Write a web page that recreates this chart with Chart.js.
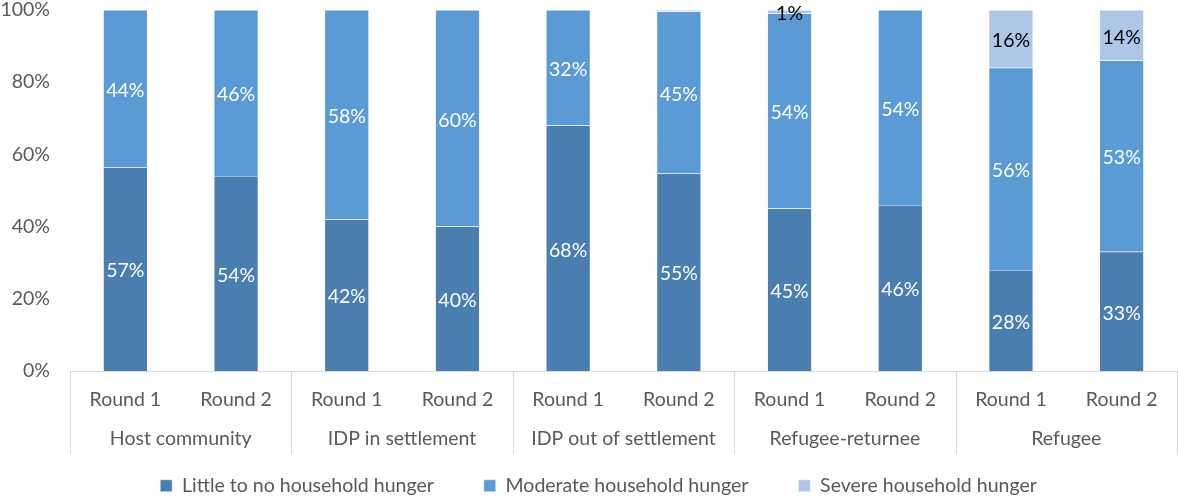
<!DOCTYPE html>
<html>
<head>
<meta charset="utf-8">
<script src="https://cdn.jsdelivr.net/npm/chart.js@4.4.1/dist/chart.umd.min.js"></script>
<style>
  html, body { margin: 0; padding: 0; background: #fff; }
  #wrap { width: 1179px; height: 498px; }
</style>
</head>
<body>
<div id="wrap"><canvas id="grafico"></canvas></div>
<script>
// categorias (nível 1 e nível 2 do eixo x)
const rodadas = ["Round 1", "Round 2", "Round 1", "Round 2", "Round 1", "Round 2", "Round 1", "Round 2", "Round 1", "Round 2"];
const grupos = ["Host community", "IDP in settlement", "IDP out of settlement", "Refugee-returnee", "Refugee"];

// valores (%)
const poucaFome = [57, 54, 42, 40, 68, 55, 45, 46, 28, 33];
const fomeModerada = [44, 46, 58, 60, 32, 45, 54, 54, 56, 53];
const fomeSevera = [0, 0, 0, 0, 0, 0.4, 1, 0, 16, 14];

const yTicks = [0, 20, 40, 60, 80, 100];

const FONTE = "Lato, 'Open Sans', sans-serif";
const TAM = 19.5;
const CINZA = "#595959";

// 100% empilhado: cada barra é normalizada pela soma
const totais = poucaFome.map((v, i) => v + fomeModerada[i] + fomeSevera[i]);
const normaliza = (arr) => arr.map((v, i) => (v / totais[i]) * 100);

// altura fixa da legenda (o padding grande entre itens inflava a caixa)
const legendaFixa = {
  id: "legendaFixa",
  beforeLayout(chart) {
    const leg = chart.legend;
    if (!leg || leg._fitFixo) return;
    const fitOrig = leg.fit;
    leg.fit = function () {
      fitOrig.call(this);
      this.height = 72;
    };
    leg._fitFixo = true;
  },
  afterLayout(chart) {
    // centraliza a legenda um pouco mais à direita, como no original
    if (chart.legend) chart.legend.left += 20;
  },
};

// desenha rótulos, linhas de separação e nomes dos grupos
const extras = {
  id: "extras",
  afterDatasetsDraw(chart) {
    const ctx = chart.ctx;
    ctx.save();
    ctx.font = TAM + "px " + FONTE;
    ctx.textAlign = "center";
    ctx.textBaseline = "middle";
    chart.data.datasets.forEach((ds, di) => {
      const meta = chart.getDatasetMeta(di);
      meta.data.forEach((bar, i) => {
        const bruto = ds.brutos[i];
        if (bruto < 1) return;
        const { x, y, base } = bar.getProps(["x", "y", "base"], true);
        ctx.fillStyle = ds.corRotulo;
        ctx.fillText(bruto + "%", x, (y + base) / 2 + 2);
      });
    });
    ctx.restore();
  },
  afterDraw(chart) {
    const ctx = chart.ctx;
    const x = chart.scales.x;
    const area = chart.chartArea;
    const n = rodadas.length;
    const passo = (x.right - x.left) / n;
    ctx.save();
    ctx.strokeStyle = "#d9d9d9";
    ctx.lineWidth = 1;
    for (let g = 0; g <= grupos.length; g++) {
      const px = Math.round(x.left + g * 2 * passo) + 0.5;
      ctx.beginPath();
      ctx.moveTo(px, area.bottom);
      ctx.lineTo(px, area.bottom + 83);
      ctx.stroke();
    }
    ctx.font = TAM + "px " + FONTE;
    ctx.fillStyle = CINZA;
    ctx.textAlign = "center";
    ctx.textBaseline = "middle";
    grupos.forEach((nome, g) => {
      const meio = x.left + (g * 2 + 1) * passo;
      ctx.fillText(nome, meio, area.bottom + 68);
    });
    ctx.restore();
  },
};

new Chart(document.getElementById("grafico"), {
  type: "bar",
  data: {
    labels: rodadas,
    datasets: [
      {
        label: "Little to no household hunger",
        data: normaliza(poucaFome),
        brutos: poucaFome,
        corRotulo: "#ffffff",
        backgroundColor: "#4a7eb0",
        borderColor: "#ffffff",
        borderWidth: 0.5,
      },
      {
        label: "Moderate household hunger",
        data: normaliza(fomeModerada),
        brutos: fomeModerada,
        corRotulo: "#ffffff",
        backgroundColor: "#5b9bd5",
        borderColor: "#ffffff",
        borderWidth: 0.5,
      },
      {
        label: "Severe household hunger",
        data: normaliza(fomeSevera),
        brutos: fomeSevera,
        corRotulo: "#000000",
        backgroundColor: "#aec7e8",
        borderColor: "#ffffff",
        borderWidth: 0.5,
      },
    ],
  },
  options: {
    responsive: true,
    maintainAspectRatio: false,
    animation: false,
    layout: { padding: { top: 10, right: 2, left: 0, bottom: 0 } },
    datasets: {
      bar: { categoryPercentage: 1, barPercentage: 0.4 },
    },
    plugins: {
      tooltip: { enabled: false },
      legend: {
        position: "bottom",
        labels: {
          boxWidth: 12,
          boxHeight: 12,
          padding: 50,
          color: CINZA,
          font: { family: FONTE, size: TAM },
        },
      },
    },
    scales: {
      x: {
        stacked: true,
        grid: { display: false },
        border: { color: "#d9d9d9" },
        ticks: { color: CINZA, font: { family: FONTE, size: TAM }, padding: 9, maxRotation: 0 },
        afterFit(scale) {
          scale.height = 55;
          scale.paddingLeft = 0;
          scale.paddingRight = 0;
        },
      },
      y: {
        stacked: true,
        min: 0,
        max: 100,
        grid: { display: false },
        border: { display: false },
        afterBuildTicks(scale) {
          scale.ticks = yTicks.map((v) => ({ value: v }));
        },
        ticks: {
          color: CINZA,
          font: { family: FONTE, size: TAM },
          padding: 12,
          callback: (v) => v + "%",
        },
        afterFit(scale) {
          scale.width = 70;
          scale.paddingTop = 0;
          scale.paddingBottom = 0;
        },
      },
    },
  },
  plugins: [legendaFixa, extras],
});
</script>
</body>
</html>
